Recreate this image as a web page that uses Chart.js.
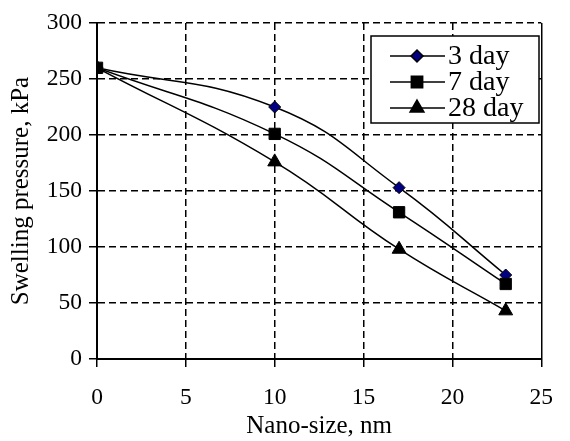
<!DOCTYPE html>
<html>
<head>
<meta charset="utf-8">
<script src="https://cdn.jsdelivr.net/npm/chart.js@4/dist/chart.umd.min.js"></script>
<style>
  html, body { margin: 0; padding: 0; background: #fff; }
  #wrap { width: 570px; height: 441px; }
</style>
</head>
<body>
<div id="wrap"><canvas id="swelling" width="570" height="441"></canvas></div>
<script>
// values
const nanoSize = [0, 10, 17, 23];
const day3 = [260, 225, 153, 75];
const day7 = [260, 201, 131, 67];
const day28 = [260, 176, 98, 43];
const seriesNames = ['3 day', '7 day', '28 day'];
const xTicks = [0, 5, 10, 15, 20, 25];
const yTicks = [0, 50, 100, 150, 200, 250, 300];
const xTitle = 'Nano-size, nm';
const yTitle = 'Swelling pressure, kPa';

// pick a Times-like face that is really installed
const probe = document.createElement('canvas').getContext('2d');
function installed(name) {
  const s = 'mmmmwwwwlli10923';
  for (const base of ['monospace', 'sans-serif']) {
    probe.font = '40px ' + base;
    const a = probe.measureText(s).width;
    probe.font = "40px '" + name + "', " + base;
    if (probe.measureText(s).width !== a) return true;
  }
  return false;
}
const candidates = ['Liberation Serif', 'Times New Roman', 'Tinos', 'Nimbus Roman', 'Times', 'DejaVu Serif'];
const face = candidates.find(installed) || 'serif';
const serif = "'" + face + "', serif";

// font size that gives a text the width it has in the figure
function fit(text, width) {
  probe.font = '100px ' + serif;
  return Math.round(100 * width / probe.measureText(text).width * 2) / 2;
}
const tickSize = fit('300', 35);
const xTitleSize = fit(xTitle, 146);
const yTitleSize = fit(yTitle, 228);
const legendSize = fit('28 day', 76);

function points(vals) {
  return vals.map((v, i) => ({ x: nanoSize[i], y: v }));
}

const styles = [
  { pointStyle: 'rectRot', radius: 6, fill: '#000080' },
  { pointStyle: 'rect', radius: 8, fill: '#000' },
  { pointStyle: 'triangle', radius: 8, fill: '#000' }
];

// legend box in the upper right of the plot
const boxLegend = {
  id: 'boxLegend',
  afterDraw(chart) {
    const ctx = chart.ctx;
    const x0 = 371, y0 = 36, w = 168, h = 87;
    ctx.save();
    ctx.fillStyle = '#fff';
    ctx.fillRect(x0, y0, w, h);
    ctx.lineWidth = 1.5;
    ctx.strokeStyle = '#000';
    ctx.strokeRect(x0, y0, w, h);
    ctx.font = legendSize + 'px ' + serif;
    ctx.textBaseline = 'middle';
    seriesNames.forEach((name, i) => {
      const y = 56 + i * 26;
      ctx.strokeStyle = '#000';
      ctx.lineWidth = 1.5;
      ctx.beginPath();
      ctx.moveTo(390, y);
      ctx.lineTo(445, y);
      ctx.stroke();
      ctx.fillStyle = styles[i].fill;
      ctx.strokeStyle = '#000';
      Chart.helpers.drawPoint(ctx, {
        pointStyle: styles[i].pointStyle,
        radius: styles[i].radius,
        rotation: 0,
        borderWidth: 1
      }, 417, y);
      ctx.fillStyle = '#000';
      ctx.fillText(name, 448, y + 1);
    });
    ctx.restore();
  }
};

const seriesData = [day3, day7, day28];

new Chart('swelling', {
  type: 'line',
  data: {
    datasets: seriesData.map((vals, i) => ({
      label: seriesNames[i],
      data: points(vals),
      borderColor: '#000',
      borderWidth: 1.5,
      tension: 0.45,
      fill: false,
      pointStyle: styles[i].pointStyle,
      pointRadius: styles[i].radius,
      pointBackgroundColor: styles[i].fill,
      pointBorderColor: '#000',
      pointBorderWidth: 1,
      order: i === 1 ? 0 : i + 1
    }))
  },
  options: {
    responsive: false,
    animation: false,
    layout: { padding: { top: 23, right: 13, left: 0, bottom: 0 } },
    plugins: {
      legend: { display: false },
      tooltip: { enabled: false }
    },
    scales: {
      x: {
        type: 'linear',
        min: 0,
        max: 25,
        afterBuildTicks: s => { s.ticks = xTicks.map(v => ({ value: v })); },
        afterFit: s => { s.height = 82; },
        ticks: {
          color: '#000',
          font: { family: serif, size: tickSize },
          padding: 17,
          maxRotation: 0
        },
        grid: {
          color: '#000',
          lineWidth: 1.5,
          tickLength: 8,
          tickColor: '#000',
          tickWidth: 1.5
        },
        border: {
          color: '#000',
          width: 2,
          dash: c => (c.tick && c.tick.value === 25 ? [] : [7, 4])
        },
        title: {
          display: true,
          text: xTitle,
          color: '#000',
          font: { family: serif, size: xTitleSize },
          padding: { top: 0, bottom: 0 }
        }
      },
      y: {
        min: 0,
        max: 300,
        afterBuildTicks: s => { s.ticks = yTicks.map(v => ({ value: v })); },
        afterFit: s => { s.width = 97; },
        ticks: {
          color: '#000',
          font: { family: serif, size: tickSize },
          padding: 7
        },
        grid: {
          color: '#000',
          lineWidth: 1.5,
          tickLength: 8,
          tickColor: '#000',
          tickWidth: 1.5
        },
        border: { color: '#000', width: 2, dash: [7, 4] },
        title: {
          display: true,
          text: yTitle,
          color: '#000',
          font: { family: serif, size: yTitleSize },
          padding: { top: 6, bottom: 0 }
        }
      }
    }
  },
  plugins: [boxLegend]
});
</script>
</body>
</html>
